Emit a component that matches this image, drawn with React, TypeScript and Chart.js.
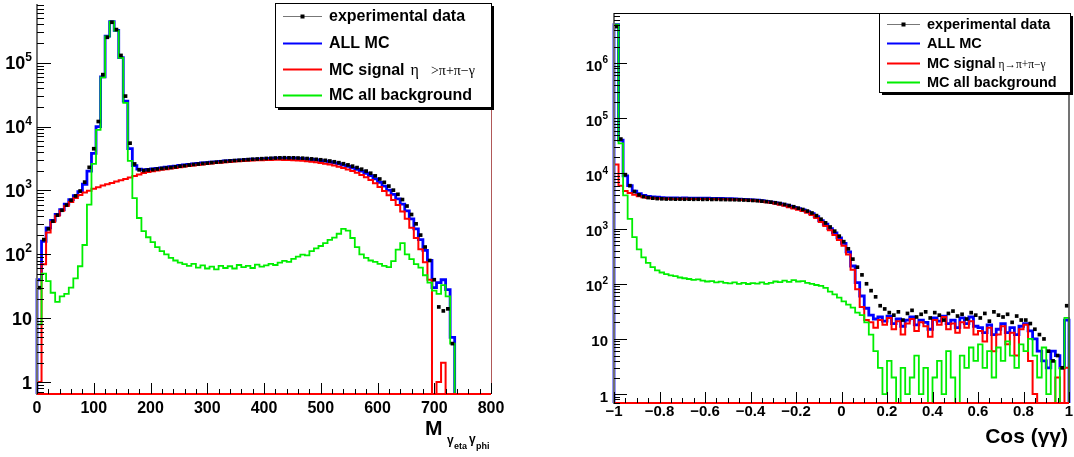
import React, { useEffect, useRef } from "react";
import { Chart, registerables } from "chart.js";

Chart.register(...registerables);

// ---------------- Left panel: M(gamma_eta gamma_phi), 8 MeV bins from 0 ----------------
const MASS_BIN_START = 0;
const MASS_BIN_WIDTH = 8;

const massData = [
  30, 170, 250, 330, 410, 490, 590, 700, 820, 980,
  1350, 2300, 4500, 12000, 65000, 250000, 430000, 330000, 130000, 30000,
  5500, 2600, 2100, 2050, 2090, 2120, 2170, 2210, 2250, 2290,
  2340, 2400, 2440, 2500, 2550, 2590, 2640, 2680, 2730, 2770,
  2810, 2860, 2900, 2940, 2970, 3010, 3040, 3080, 3110, 3140,
  3170, 3190, 3220, 3240, 3250, 3240, 3240, 3220, 3200, 3160,
  3120, 3070, 3020, 2960, 2890, 2810, 2720, 2620, 2510, 2400,
  2280, 2150, 2010, 1860, 1690, 1510, 1340, 1170, 1010, 870,
  720, 570, 420, 300, 200, 130, 80, 40, 15, 13,
  14, 4, 0, 0, 0, 0, 0, 0, 0, 0,
];

const massAllMC = [
  40, 160, 260, 340, 420, 500, 610, 720, 830, 960,
  1250, 2000, 3800, 10000, 60000, 260000, 440000, 320000, 120000, 25000,
  4500, 2450, 2150, 2100, 2130, 2180, 2220, 2260, 2310, 2350,
  2400, 2460, 2500, 2560, 2600, 2650, 2690, 2730, 2770, 2810,
  2850, 2890, 2920, 2960, 2990, 3020, 3050, 3080, 3100, 3130,
  3150, 3170, 3190, 3200, 3210, 3200, 3190, 3170, 3140, 3100,
  3050, 3000, 2940, 2870, 2790, 2700, 2600, 2490, 2380, 2260,
  2140, 2000, 1860, 1700, 1520, 1340, 1170, 1010, 870, 740,
  610, 480, 360, 250, 170, 115, 80, 30, 36, 40,
  28, 5, 0, 0, 0, 0, 0, 0, 0, 0,
];

const massSignal = [
  1, 70, 220, 320, 400, 480, 570, 660, 760, 850,
  930, 990, 1060, 1120, 1190, 1250, 1310, 1380, 1440, 1510,
  1590, 1690, 1780, 1870, 1950, 2000, 2050, 2100, 2150, 2200,
  2250, 2310, 2360, 2410, 2460, 2500, 2550, 2590, 2630, 2680,
  2720, 2760, 2790, 2830, 2860, 2890, 2910, 2940, 2960, 2980,
  3000, 3010, 3020, 3020, 3010, 3000, 2980, 2950, 2910, 2870,
  2820, 2760, 2700, 2620, 2540, 2450, 2350, 2240, 2130, 2010,
  1890, 1750, 1610, 1460, 1300, 1130, 980, 840, 710, 590,
  470, 360, 260, 180, 120, 75, 40, 0, 1, 2,
  0, 0, 0, 0, 0, 0, 0, 0, 0, 0,
];

const massBackground = [
  8, 50, 38, 25, 18, 22, 24, 30, 42, 65,
  140, 600, 2600, 8900, 58800, 258700, 438700, 318600, 118600, 23500,
  2900, 760, 370, 230, 185, 155, 130, 112, 100, 88,
  80, 74, 70, 66, 71, 62, 67, 60, 64, 58,
  66, 61, 65, 60, 68, 63, 66, 61, 69, 64,
  67, 71, 68, 74, 79, 76, 85, 92, 99, 96,
  112, 124, 135, 150, 168, 182, 210, 250, 235, 180,
  130, 100, 88, 80, 76, 71, 66, 63, 78, 118,
  150, 100, 84, 70, 62, 47, 36, 27, 24, 33,
  22, 4, 0, 0, 0, 0, 0, 0, 0, 0,
];

// ---------------- Right panel: cos(gamma gamma), 0.02 bins from -1 ----------------
const COS_BIN_START = -1;
const COS_BIN_WIDTH = 0.02;

const cosData = [
  4600000, 42000, 9500, 6000, 4700, 4100, 3800, 3650, 3560, 3500,
  3470, 3440, 3450, 3420, 3430, 3410, 3420, 3400, 3410, 3390,
  3400, 3380, 3390, 3370, 3360, 3350, 3340, 3320, 3300, 3270,
  3240, 3200, 3150, 3090, 3020, 2940, 2850, 2740, 2620, 2490,
  2350, 2220, 2080, 1920, 1720, 1480, 1270, 1070, 900, 730,
  580, 430, 280, 200, 145, 100, 75, 58, 40, 35,
  30, 27, 31, 22, 29, 33, 25, 28, 31, 24,
  30, 27, 22, 29, 32, 26, 28, 23, 30, 27,
  24, 29, 21, 31, 27, 25, 28, 20, 26, 22,
  22, 19, 15, 12, 10, 6, 4, 5, 3, 40,
];

const cosAllMC = [
  5000000, 40000, 9000, 6000, 4800, 4300, 4000, 3850, 3750, 3700,
  3650, 3620, 3600, 3600, 3580, 3600, 3580, 3570, 3560, 3550,
  3550, 3540, 3530, 3520, 3500, 3480, 3460, 3430, 3400, 3360,
  3320, 3270, 3200, 3120, 3030, 2930, 2820, 2700, 2560, 2430,
  2300, 2180, 2030, 1870, 1650, 1400, 1200, 1000, 840, 680,
  540, 380, 210, 105, 60, 36, 27, 23, 25, 21,
  26, 19, 23, 17, 22, 25, 18, 22, 20, 15,
  24, 21, 26, 19, 22, 16, 24, 19, 25, 17,
  16, 13, 18, 12, 15, 19, 13, 16, 12, 17,
  19, 14, 10, 6, 4, 3, 6, 5, 3, 22,
];

const cosSignal = [
  14500, 6000, 4800, 4400, 4100, 3880, 3700, 3600, 3550, 3520,
  3490, 3470, 3460, 3460, 3450, 3470, 3460, 3450, 3440, 3440,
  3440, 3430, 3420, 3410, 3400, 3380, 3350, 3330, 3300, 3260,
  3220, 3170, 3090, 3020, 2930, 2820, 2710, 2590, 2450, 2310,
  2190, 2080, 1930, 1770, 1560, 1320, 1120, 930, 770, 620,
  490, 340, 180, 80, 38, 22, 20, 16, 22, 18,
  24, 15, 21, 12, 19, 23, 14, 20, 17, 11,
  22, 18, 25, 15, 19, 13, 20, 16, 21, 12,
  14, 9, 16, 6, 12, 17, 8, 13, 5, 15,
  18, 4, 1, 0, 0, 0, 0, 2, 0, 3,
];

const cosBackground = [
  5000000, 35000, 4000, 1500, 700, 420, 300, 240, 200, 175,
  160, 150, 142, 138, 130, 126, 122, 118, 120, 114,
  110, 112, 106, 109, 104, 102, 106, 100, 104, 99,
  103, 101, 106, 100, 104, 110, 107, 114, 108, 116,
  110, 112, 104, 100, 95, 92, 84, 72, 64, 56,
  48, 42, 37, 30, 27, 20, 12, 6, 3, 1,
  4, 2, 0, 3, 1, 2, 5, 1, 3, 0,
  2, 4, 1, 6, 2, 0, 5, 3, 7, 4,
  8, 3, 6, 2, 7, 4, 9, 5, 3, 8,
  6, 10, 5, 2, 7, 1, 4, 0, 3, 24,
];

// ---------------- Axes / labels ----------------
const massTickValues = [0, 100, 200, 300, 400, 500, 600, 700, 800];
const massTickLabels = ["0", "100", "200", "300", "400", "500", "600", "700", "800"];
const cosTickValues = [-1, -0.8, -0.6, -0.4, -0.2, 0, 0.2, 0.4, 0.6, 0.8, 1];
const cosTickLabels = ["\u22121", "\u22120.8", "\u22120.6", "\u22120.4", "\u22120.2", "0", "0.2", "0.4", "0.6", "0.8", "1"];
const massDecades = [1, 10, 100, 1000, 10000, 100000];
const cosDecades = [1, 10, 100, 1000, 10000, 100000, 1000000];
const decadeLabels = [["1", ""], ["10", ""], ["10", "2"], ["10", "3"], ["10", "4"], ["10", "5"], ["10", "6"]];

const legendLabels = ["experimental data", "ALL MC", "MC signal", "MC all background"];
const seriesColors = ["#000000", "#0000ff", "#ff0000", "#00ee00"];

const SANS = '"Liberation Sans", Arial, Helvetica, sans-serif';
const SERIF = '"Liberation Serif", "DejaVu Serif", serif';
const FLOOR = 0.001;

function histPoints(start: number, width: number, values: number[]) {
  const n = values.length;
  const end = start + n * width;
  const v = (a: number) => (a > 0 ? a : FLOOR);
  const pts: { x: number; y: number }[] = [{ x: start, y: FLOOR }, { x: start, y: v(values[0]) }];
  values.forEach((a, i) => pts.push({ x: start + (i + 0.5) * width, y: v(a) }));
  pts.push({ x: end, y: v(values[n - 1]) });
  pts.push({ x: end, y: FLOOR });
  return pts;
}

function dataPoints(start: number, width: number, values: number[]) {
  return values.map((a, i) => ({ x: start + (i + 0.5) * width, y: a > 0 ? a : null }));
}

function drawLegend(ctx: CanvasRenderingContext2D, L: any) {
  ctx.save();
  ctx.fillStyle = "#000";
  ctx.fillRect(L.x + 3, L.y + 3, L.w, L.h);
  ctx.fillStyle = "#fff";
  ctx.fillRect(L.x, L.y, L.w, L.h);
  ctx.strokeStyle = "#000";
  ctx.lineWidth = 1;
  ctx.strokeRect(L.x + 0.5, L.y + 0.5, L.w, L.h);
  legendLabels.forEach((label, i) => {
    const base = L.rows[i];
    const ly = Math.round(base - L.font * 0.33) + 0.5;
    ctx.beginPath();
    ctx.moveTo(L.s0, ly);
    ctx.lineTo(L.s1, ly);
    if (i === 0) {
      ctx.strokeStyle = "#777";
      ctx.lineWidth = 1;
      ctx.stroke();
      ctx.fillStyle = "#000";
      ctx.fillRect((L.s0 + L.s1) / 2 - 2, ly - 2, 4, 4);
    } else {
      ctx.strokeStyle = seriesColors[i];
      ctx.lineWidth = 2;
      ctx.stroke();
    }
    ctx.fillStyle = "#000";
    ctx.textAlign = "left";
    ctx.textBaseline = "alphabetic";
    ctx.font = `bold ${L.font}px ${SANS}`;
    ctx.fillText(label, L.tx, base);
    if (i === 2) {
      let gx = L.tx + ctx.measureText(label).width + L.greekGap0;
      L.greek.forEach((g: string, k: number) => {
        ctx.font = `${L.greekFonts[k]}px ${SERIF}`;
        ctx.fillText(g, gx, base);
        gx += ctx.measureText(g).width + L.greekGap1;
      });
    }
  });
  ctx.restore();
}

function panelPlugin(cfg: any) {
  return {
    id: "panel_" + cfg.kind,
    afterDatasetsDraw(chart: any) {
      const ctx: CanvasRenderingContext2D = chart.ctx;
      const { left, right, top, bottom } = chart.chartArea;
      const xs = chart.scales.x;
      const ys = chart.scales.y;
      ctx.save();
      // frame
      if (cfg.kind === "cos") {
        ctx.strokeStyle = "#000";
        ctx.lineWidth = 1;
        ctx.beginPath();
        ctx.moveTo(left, top + 0.5);
        ctx.lineTo(right, top + 0.5);
        ctx.stroke();
        ctx.strokeStyle = "#444";
        ctx.lineWidth = 1.5;
        ctx.beginPath();
        ctx.moveTo(right, top);
        ctx.lineTo(right, bottom);
        ctx.stroke();
      } else {
        ctx.strokeStyle = "#b05858";
        ctx.lineWidth = 1;
        ctx.beginPath();
        ctx.moveTo(right + 0.5, top);
        ctx.lineTo(right + 0.5, bottom);
        ctx.stroke();
      }
      ctx.strokeStyle = "#707070";
      ctx.lineWidth = 2;
      ctx.beginPath();
      ctx.moveTo(left, top);
      ctx.lineTo(left, bottom + 1);
      ctx.stroke();
      ctx.strokeStyle = "#ff0000";
      ctx.lineWidth = 2;
      ctx.beginPath();
      ctx.moveTo(left, bottom);
      ctx.lineTo(right, bottom);
      ctx.stroke();

      // x ticks
      ctx.strokeStyle = "#000";
      ctx.lineWidth = 1;
      const nMinor = Math.round((xs.max - xs.min) / cfg.xMinorStep);
      for (let i = 0; i <= nMinor; i++) {
        const v = xs.min + i * cfg.xMinorStep;
        const major = cfg.xTicks.some((t: number) => Math.abs(t - v) < 1e-9);
        const px = Math.round(xs.getPixelForValue(v)) + 0.5;
        ctx.beginPath();
        ctx.moveTo(px, bottom);
        ctx.lineTo(px, bottom - (major ? cfg.majX : cfg.minX));
        ctx.stroke();
      }
      // y ticks
      const decs = [0.1, ...cfg.yDecades];
      decs.forEach((d: number) => {
        for (let m = 1; m <= 9; m++) {
          const v = m * d;
          if (v < ys.min || v > ys.max) continue;
          const py = Math.round(ys.getPixelForValue(v)) + 0.5;
          ctx.beginPath();
          ctx.moveTo(left, py);
          ctx.lineTo(left + (m === 1 ? cfg.majY : cfg.minY), py);
          ctx.stroke();
        }
      });

      // x labels
      ctx.fillStyle = "#000";
      ctx.textBaseline = "alphabetic";
      ctx.textAlign = "center";
      ctx.font = `bold ${cfg.xFont}px ${SANS}`;
      cfg.xTicks.forEach((t: number, i: number) => {
        ctx.fillText(cfg.xLabels[i], xs.getPixelForValue(t), cfg.xBase);
      });
      // y labels
      ctx.textAlign = "left";
      cfg.yDecades.forEach((d: number, i: number) => {
        const [base, exp] = cfg.yLabels[i];
        const py = ys.getPixelForValue(d);
        ctx.font = `bold ${cfg.expFont}px ${SANS}`;
        const we = exp ? ctx.measureText(exp).width : 0;
        ctx.font = `bold ${cfg.yFont}px ${SANS}`;
        const wb = ctx.measureText(base).width;
        const xr = left - cfg.yGap;
        const by = py + cfg.yFont * 0.36 + cfg.yShift;
        ctx.fillText(base, xr - we - wb, by);
        if (exp) {
          ctx.font = `bold ${cfg.expFont}px ${SANS}`;
          ctx.fillText(exp, xr - we, by - cfg.yFont * 0.47);
        }
      });

      // axis title
      if (cfg.kind === "mass") {
        const tx = right - 66;
        ctx.font = `bold 21px ${SANS}`;
        ctx.fillText("M", tx, 435);
        ctx.font = `bold 12px ${SANS}`;
        ctx.fillText("\u03b3", tx + 22, 444);
        ctx.font = `bold 9px ${SANS}`;
        ctx.fillText("eta", tx + 29, 449);
        ctx.font = `bold 12px ${SANS}`;
        ctx.fillText("\u03b3", tx + 44, 443);
        ctx.font = `bold 9px ${SANS}`;
        ctx.fillText("phi", tx + 51, 449);
      } else {
        ctx.textAlign = "right";
        ctx.font = `bold 21px ${SANS}`;
        ctx.fillText("Cos (\u03b3\u03b3)", right - 1, 443);
      }
      ctx.restore();
      drawLegend(ctx, cfg.legend);
    },
  };
}

function makeConfig(p: any): any {
  const hist = (values: number[], color: string, width: number, order: number, label: string) => ({
    label,
    data: histPoints(p.start, p.width, values),
    borderColor: color,
    borderWidth: width,
    pointRadius: 0,
    stepped: "middle",
    fill: false,
    order,
    clip: { left: 2, right: 2, top: 0, bottom: 0 },
  });
  return {
    type: "line",
    data: {
      datasets: [
        {
          label: legendLabels[0],
          data: dataPoints(p.start, p.width, p.data),
          borderColor: "#000",
          borderWidth: 1,
          pointStyle: "rect",
          pointRadius: 2.6,
          pointBackgroundColor: "#000",
          pointBorderWidth: 0,
          showLine: false,
          order: 0,
          clip: { left: 3, right: 3, top: 0, bottom: 0 },
        },
        hist(p.bkg, seriesColors[3], 1.8, 1, legendLabels[3]),
        hist(p.sig, seriesColors[2], 2, 2, legendLabels[2]),
        hist(p.all, seriesColors[1], 2.8, 3, legendLabels[1]),
      ],
    },
    options: {
      animation: false,
      responsive: false,
      maintainAspectRatio: false,
      devicePixelRatio: 1,
      events: [],
      layout: { padding: p.padding },
      plugins: { legend: { display: false }, tooltip: { enabled: false }, title: { display: false } },
      scales: {
        x: { type: "linear", min: p.xmin, max: p.xmax, display: false, bounds: "data" },
        y: { type: "logarithmic", min: p.ymin, max: p.ymax, display: false },
      },
    },
    plugins: [panelPlugin(p.panel)],
  };
}

const massPanel = {
  kind: "mass",
  xTicks: massTickValues,
  xLabels: massTickLabels,
  xMinorStep: 20,
  yDecades: massDecades,
  yLabels: decadeLabels,
  xFont: 16,
  yFont: 18,
  expFont: 12,
  yGap: 5,
  yShift: 0,
  xBase: 413,
  majY: 14,
  minY: 7,
  majX: 11,
  minX: 5,
  legend: {
    x: 275, y: 3, w: 216, h: 104,
    rows: [21, 48, 74.5, 100],
    s0: 283, s1: 322, tx: 329, font: 16,
    greek: ["\u03b7", ">\u03c0+\u03c0\u2212\u03b3"], greekFonts: [16, 14], greekGap0: 6, greekGap1: 12,
  },
};

const cosPanel = {
  kind: "cos",
  xTicks: cosTickValues,
  xLabels: cosTickLabels,
  xMinorStep: 0.05,
  yDecades: cosDecades,
  yLabels: decadeLabels,
  xFont: 15,
  yFont: 15,
  expFont: 10,
  yGap: 6,
  yShift: 2,
  xBase: 416,
  majY: 13,
  minY: 6,
  majX: 11,
  minX: 5,
  legend: {
    x: 342, y: 13, w: 191, h: 79,
    rows: [28.5, 48, 67.5, 86.5],
    s0: 350, s1: 383, tx: 390, font: 14.5,
    greek: ["\u03b7\u2192\u03c0+\u03c0\u2212\u03b3"], greekFonts: [11.5], greekGap0: 3, greekGap1: 0,
  },
};

export default function App() {
  const leftRef = useRef<HTMLCanvasElement>(null);
  const rightRef = useRef<HTMLCanvasElement>(null);
  useEffect(() => {
    const c1 = new Chart(
      leftRef.current as HTMLCanvasElement,
      makeConfig({
        start: MASS_BIN_START, width: MASS_BIN_WIDTH,
        data: massData, all: massAllMC, sig: massSignal, bkg: massBackground,
        xmin: 0, xmax: 800, ymin: 0.65, ymax: 830000,
        padding: { left: 37, right: 46, top: 3, bottom: 63 },
        panel: massPanel,
      })
    );
    const c2 = new Chart(
      rightRef.current as HTMLCanvasElement,
      makeConfig({
        start: COS_BIN_START, width: COS_BIN_WIDTH,
        data: cosData, all: cosAllMC, sig: cosSignal, bkg: cosBackground,
        xmin: -1, xmax: 1, ymin: 0.69, ymax: 8100000,
        padding: { left: 77, right: 5, top: 13, bottom: 54 },
        panel: cosPanel,
      })
    );
    return () => {
      c1.destroy();
      c2.destroy();
    };
  }, []);
  return (
    <div style={{ position: "absolute", left: 0, top: 0, width: 1074, height: 457, background: "#fff", overflow: "hidden" }}>
      <canvas ref={leftRef} width={537} height={457} style={{ position: "absolute", left: 0, top: 0, width: 537, height: 457 }} />
      <canvas ref={rightRef} width={537} height={457} style={{ position: "absolute", left: 537, top: 0, width: 537, height: 457 }} />
    </div>
  );
}
